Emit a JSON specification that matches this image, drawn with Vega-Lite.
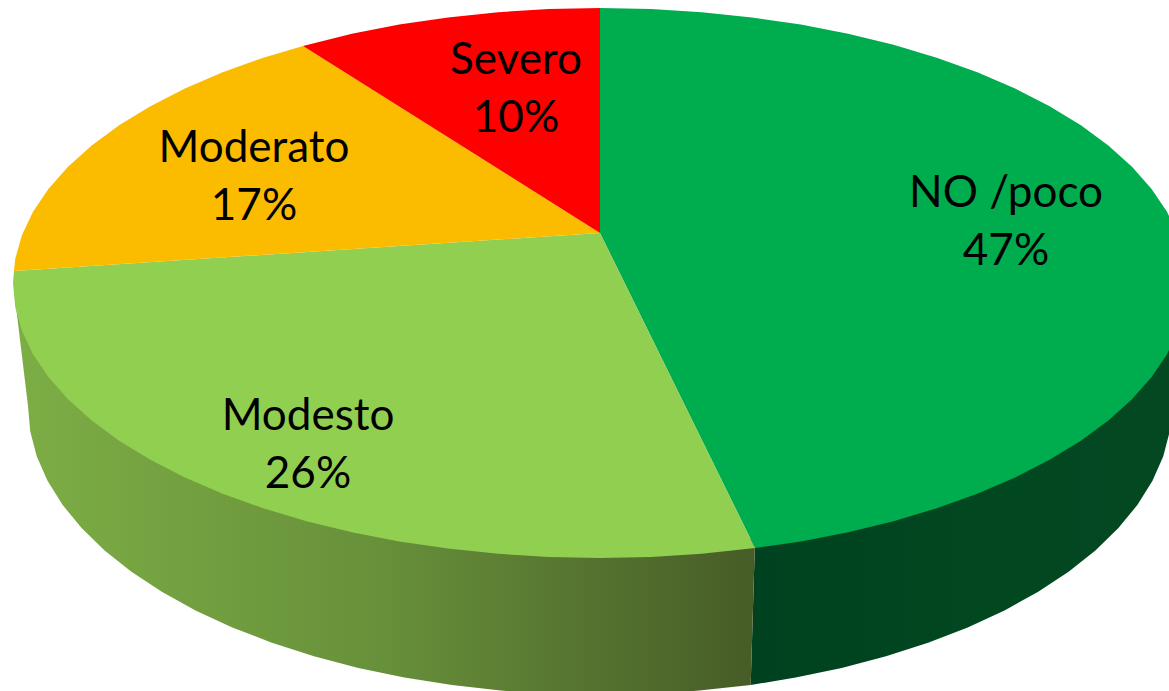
{"$schema":"https://vega.github.io/schema/vega-lite/v6.json","width":1169,"height":691,"padding":0,"autosize":{"type":"fit","contains":"padding"},"background":"white","view":{"stroke":null},
"datasets":{
"wallDark":[{"i":0,"x":755,"y":540},{"i":1,"x":1190,"y":300},{"i":2,"x":1172,"y":406},{"i":3,"x":1169.8,"y":431.2},{"i":4,"x":1163.3,"y":456.2},{"i":5,"x":1152.5,"y":480.8},{"i":6,"x":1137.5,"y":504.8},{"i":7,"x":1118.4,"y":528.1},{"i":8,"x":1095.4,"y":550.5},{"i":9,"x":1068.6,"y":571.8},{"i":10,"x":1038.2,"y":591.8},{"i":11,"x":1004.5,"y":610.4},{"i":12,"x":967.7,"y":627.4},{"i":13,"x":928.1,"y":642.7},{"i":14,"x":886,"y":656.3},{"i":15,"x":841.7,"y":667.9},{"i":16,"x":795.6,"y":677.6},{"i":17,"x":750.7,"y":685}],
"wallLight":[{"i":0,"x":755,"y":540},{"i":1,"x":750.7,"y":685},{"i":2,"x":699.3,"y":690.6},{"i":3,"x":649.9,"y":693.9},{"i":4,"x":600,"y":695},{"i":5,"x":550.1,"y":693.9},{"i":6,"x":500.7,"y":690.6},{"i":7,"x":452,"y":685.1},{"i":8,"x":404.4,"y":677.6},{"i":9,"x":358.3,"y":667.9},{"i":10,"x":314,"y":656.3},{"i":11,"x":271.9,"y":642.7},{"i":12,"x":232.3,"y":627.4},{"i":13,"x":195.5,"y":610.4},{"i":14,"x":161.8,"y":591.8},{"i":15,"x":131.4,"y":571.8},{"i":16,"x":104.6,"y":550.5},{"i":17,"x":81.6,"y":528.1},{"i":18,"x":62.5,"y":504.8},{"i":19,"x":47.5,"y":480.8},{"i":20,"x":36.7,"y":456.2},{"i":21,"x":30.2,"y":431.2},{"i":22,"x":28,"y":406},{"i":23,"x":14,"y":290}],
"top":[
{"s":"NO /poco","i":0,"x":600,"y":233},{"s":"NO /poco","i":1,"x":600,"y":8},{"s":"NO /poco","i":2,"x":651.2,"y":9},{"s":"NO /poco","i":3,"x":701.9,"y":12.2},{"s":"NO /poco","i":4,"x":751.9,"y":17.4},{"s":"NO /poco","i":5,"x":800.8,"y":24.6},{"s":"NO /poco","i":6,"x":848.1,"y":33.8},{"s":"NO /poco","i":7,"x":893.5,"y":44.8},{"s":"NO /poco","i":8,"x":936.7,"y":57.7},{"s":"NO /poco","i":9,"x":977.3,"y":72.3},{"s":"NO /poco","i":10,"x":1015.1,"y":88.5},{"s":"NO /poco","i":11,"x":1049.6,"y":106.2},{"s":"NO /poco","i":12,"x":1080.9,"y":125.3},{"s":"NO /poco","i":13,"x":1108.3,"y":145.5},{"s":"NO /poco","i":14,"x":1132,"y":166.8},{"s":"NO /poco","i":15,"x":1151.6,"y":188.9},{"s":"NO /poco","i":16,"x":1167,"y":211.8},{"s":"NO /poco","i":17,"x":1178.1,"y":235.3},{"s":"NO /poco","i":18,"x":1184.8,"y":259},{"s":"NO /poco","i":19,"x":1187,"y":283},{"s":"NO /poco","i":20,"x":1184.8,"y":307},{"s":"NO /poco","i":21,"x":1178.1,"y":330.7},{"s":"NO /poco","i":22,"x":1167,"y":354.2},{"s":"NO /poco","i":23,"x":1151.6,"y":377.1},{"s":"NO /poco","i":24,"x":1132,"y":399.2},{"s":"NO /poco","i":25,"x":1108.3,"y":420.5},{"s":"NO /poco","i":26,"x":1080.9,"y":440.7},{"s":"NO /poco","i":27,"x":1049.6,"y":459.8},{"s":"NO /poco","i":28,"x":1015.1,"y":477.5},{"s":"NO /poco","i":29,"x":977.3,"y":493.7},{"s":"NO /poco","i":30,"x":936.7,"y":508.3},{"s":"NO /poco","i":31,"x":893.5,"y":521.2},{"s":"NO /poco","i":32,"x":848.1,"y":532.2},{"s":"NO /poco","i":33,"x":800.8,"y":541.4},{"s":"NO /poco","i":34,"x":755,"y":548},
{"s":"Modesto","i":0,"x":600,"y":233},{"s":"Modesto","i":1,"x":755,"y":548},{"s":"Modesto","i":2,"x":701.9,"y":553.8},{"s":"Modesto","i":3,"x":651.2,"y":557},{"s":"Modesto","i":4,"x":600,"y":558},{"s":"Modesto","i":5,"x":548.8,"y":557},{"s":"Modesto","i":6,"x":498.1,"y":553.8},{"s":"Modesto","i":7,"x":448.1,"y":548.6},{"s":"Modesto","i":8,"x":399.2,"y":541.4},{"s":"Modesto","i":9,"x":351.9,"y":532.2},{"s":"Modesto","i":10,"x":306.5,"y":521.2},{"s":"Modesto","i":11,"x":263.3,"y":508.3},{"s":"Modesto","i":12,"x":222.7,"y":493.7},{"s":"Modesto","i":13,"x":184.9,"y":477.5},{"s":"Modesto","i":14,"x":150.4,"y":459.8},{"s":"Modesto","i":15,"x":119.1,"y":440.7},{"s":"Modesto","i":16,"x":91.7,"y":420.5},{"s":"Modesto","i":17,"x":68,"y":399.2},{"s":"Modesto","i":18,"x":48.4,"y":377.1},{"s":"Modesto","i":19,"x":33,"y":354.2},{"s":"Modesto","i":20,"x":21.9,"y":330.7},{"s":"Modesto","i":21,"x":15.2,"y":307},{"s":"Modesto","i":22,"x":13,"y":283},{"s":"Modesto","i":23,"x":14,"y":271},
{"s":"Moderato","i":0,"x":600,"y":233},{"s":"Moderato","i":1,"x":14,"y":271},{"s":"Moderato","i":2,"x":15.2,"y":259},{"s":"Moderato","i":3,"x":21.9,"y":235.3},{"s":"Moderato","i":4,"x":33,"y":211.8},{"s":"Moderato","i":5,"x":48.4,"y":188.9},{"s":"Moderato","i":6,"x":68,"y":166.8},{"s":"Moderato","i":7,"x":91.7,"y":145.5},{"s":"Moderato","i":8,"x":119.1,"y":125.3},{"s":"Moderato","i":9,"x":150.4,"y":106.2},{"s":"Moderato","i":10,"x":184.9,"y":88.5},{"s":"Moderato","i":11,"x":222.7,"y":72.3},{"s":"Moderato","i":12,"x":263.3,"y":57.7},{"s":"Moderato","i":13,"x":303,"y":46},
{"s":"Severo","i":0,"x":600,"y":233},{"s":"Severo","i":1,"x":303,"y":46},{"s":"Severo","i":2,"x":351.9,"y":33.8},{"s":"Severo","i":3,"x":399.2,"y":24.6},{"s":"Severo","i":4,"x":448.1,"y":17.4},{"s":"Severo","i":5,"x":498.1,"y":12.2},{"s":"Severo","i":6,"x":548.8,"y":9},{"s":"Severo","i":7,"x":600,"y":8}],
"labels":[{"categoria":"NO /poco","pct":47,"label":"NO /poco\n47%","x":1006,"y":207},{"categoria":"Modesto","pct":26,"label":"Modesto\n26%","x":308,"y":430},{"categoria":"Moderato","pct":17,"label":"Moderato\n17%","x":254,"y":162},{"categoria":"Severo","pct":10,"label":"Severo\n10%","x":516,"y":74}]},
"encoding":{
"x":{"field":"x","type":"quantitative","scale":{"domain":[0,1169],"nice":false,"zero":false},"axis":null},
"y":{"field":"y","type":"quantitative","scale":{"domain":[0,691],"reverse":true,"nice":false,"zero":false},"axis":null}},
"layer":[
{"data":{"name":"wallDark"},"mark":{"type":"line","clip":true,"strokeWidth":0,"fill":{"gradient":"linear","x1":0,"y1":0,"x2":1,"y2":0,"stops":[{"offset":0,"color":"#00421F"},{"offset":0.5,"color":"#014720"},{"offset":1,"color":"#044822"}]}},"encoding":{"order":{"field":"i","type":"quantitative"}}},
{"data":{"name":"wallLight"},"mark":{"type":"line","clip":true,"strokeWidth":0,"fill":{"gradient":"linear","x1":0,"y1":0,"x2":1,"y2":0,"stops":[{"offset":0,"color":"#7DAE45"},{"offset":0.5,"color":"#67903A"},{"offset":1,"color":"#475C27"}]}},"encoding":{"order":{"field":"i","type":"quantitative"}}},
{"data":{"name":"top"},"mark":{"type":"line","clip":true,"strokeWidth":0},"encoding":{"order":{"field":"i","type":"quantitative"},"fill":{"field":"s","type":"nominal","legend":null,"scale":{"domain":["NO /poco","Modesto","Moderato","Severo"],"range":["#00AD4E","#91CF50","#FBBC00","#FF0000"]}}}},
{"data":{"name":"labels"},"mark":{"type":"text","font":"Lato","fontSize":44,"color":"black","align":"center","baseline":"alphabetic","lineBreak":"\n","lineHeight":58},"encoding":{"text":{"field":"label","type":"nominal"}}}
]}
